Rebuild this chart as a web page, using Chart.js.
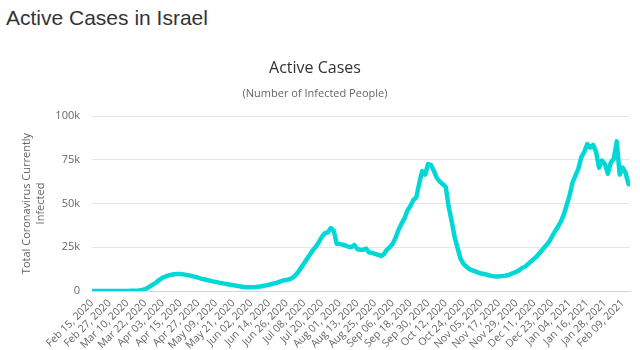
<!DOCTYPE html>
<html>
<head>
<meta charset="utf-8">
<script src="https://cdn.jsdelivr.net/npm/chart.js@4"></script>
<style>
  body { margin: 0; background: #fff; }
  #h { position: absolute; left: 6px; top: 7px; font: 21px/21px "Liberation Sans", Arial, sans-serif; color: #333; white-space: nowrap; }
  #wrap { position: absolute; left: 0; top: 40px; width: 640px; height: 310px; }
</style>
</head>
<body>
<div id="h">Active Cases in Israel</div>
<div id="wrap"><canvas id="c"></canvas></div>
<script>
// x tick labels, one every 12 days starting Feb 15, 2020
const tickLabels = ['Feb 15, 2020', 'Feb 27, 2020', 'Mar 10, 2020', 'Mar 22, 2020', 'Apr 03, 2020',
  'Apr 15, 2020', 'Apr 27, 2020', 'May 09, 2020', 'May 21, 2020', 'Jun 02, 2020', 'Jun 14, 2020',
  'Jun 26, 2020', 'Jul 08, 2020', 'Jul 20, 2020', 'Aug 01, 2020', 'Aug 13, 2020', 'Aug 25, 2020',
  'Sep 06, 2020', 'Sep 18, 2020', 'Sep 30, 2020', 'Oct 12, 2020', 'Oct 24, 2020', 'Nov 05, 2020',
  'Nov 17, 2020', 'Nov 29, 2020', 'Dec 11, 2020', 'Dec 23, 2020', 'Jan 04, 2021', 'Jan 16, 2021',
  'Jan 28, 2021', 'Feb 09, 2021'];
const tickStep = 12;     // days between labels
const lastDay = 365;     // Feb 14, 2021
const sampleStep = 2;    // one value read every 2 days

// active cases, every 2 days from Feb 15, 2020
const activeCases = [
  0, 0, 0, 1, 1, 1, 1, 2, 3, 10, 15,
  30, 50, 80, 120, 200, 300, 600, 1000, 1900, 3000,
  4000, 5200, 6500, 7600, 8300, 8900, 9300, 9600, 9700, 9700,
  9500, 9200, 8900, 8500, 8100, 7600, 7100, 6700, 6300, 5900,
  5500, 5200, 4800, 4500, 4200, 3900, 3600, 3300, 3000, 2700,
  2400, 2200, 2100, 2100, 2200, 2400, 2600, 2900, 3200, 3600,
  4000, 4400, 4900, 5500, 6100, 6300, 6700, 7500, 9000, 11000,
  13500, 16000, 18500, 21000, 23500, 25500, 28000, 31000, 33000, 33500,
  36000, 34500, 27000, 26800, 26500, 26000, 25300, 25000, 26300, 24000,
  23500, 23600, 24200, 22000, 21800, 21200, 20700, 20000, 21000, 23500,
  25000, 27000, 30500, 35000, 38500, 41500, 46000, 48500, 52000, 53500,
  61500, 68500, 66500, 72500, 72000, 68500, 64500, 62500, 61000, 59500,
  48000, 40000, 31000, 24500, 18500, 15500, 14000, 12500, 11800, 11200,
  10500, 10000, 9700, 9300, 8800, 8500, 8300, 8300, 8500, 8700,
  9000, 9600, 10400, 11000, 12000, 13300, 14000, 15500, 17000, 18500,
  20000, 22000, 24000, 26000, 28000, 31000, 34000, 36500, 39500, 43500,
  49000, 54500, 62000, 66000, 70000, 76500, 79500, 84000, 82000, 83500,
  79500, 70500, 74500, 72500, 67000, 73500, 75500, 85500, 66500, 70500, 67500, 61000
];

const FONT = '"Open Sans", "DejaVu Sans", sans-serif';
const MUTED = '#666666';

new Chart(document.getElementById('c'), {
  type: 'line',
  data: {
    datasets: [{
      label: 'Currently Infected',
      data: activeCases.map((v, i) => ({ x: i * sampleStep, y: v })),
      borderColor: '#00d8d8',
      borderWidth: 4.5,
      borderJoinStyle: 'round',
      borderCapStyle: 'round',
      pointRadius: 0,
      tension: 0,
      fill: false
    }]
  },
  options: {
    responsive: true,
    maintainAspectRatio: false,
    animation: false,
    devicePixelRatio: 1,
    layout: { padding: { left: 0, right: 10, top: 0, bottom: 0 } },
    plugins: {
      legend: { display: false },
      tooltip: { enabled: false },
      title: {
        display: true, text: 'Active Cases', color: '#333333',
        font: { family: FONT, size: 16, weight: 'normal' },
        padding: { top: 18.4, bottom: 5 }
      },
      subtitle: {
        display: true, text: '(Number of Infected People)', color: MUTED,
        font: { family: FONT, size: 11 },
        padding: { top: 4.8, bottom: 15.4 }
      }
    },
    scales: {
      x: {
        type: 'linear', min: 0, max: lastDay,
        grid: { display: false, drawTicks: false },
        border: { display: true, color: '#ccd6eb' },
        ticks: {
          autoSkip: false, maxRotation: 45, minRotation: 45,
          color: MUTED, font: { family: FONT, size: 10.5 }, padding: 6,
          callback: (v) => tickLabels[v / tickStep] || ''
        },
        afterBuildTicks: (s) => { s.ticks = tickLabels.map((_, i) => ({ value: i * tickStep })); },
        afterFit: (s) => { s.height = 59; }
      },
      y: {
        min: 0, max: 100000,
        grid: { color: '#e6e6e6', drawTicks: false },
        border: { display: false },
        ticks: {
          stepSize: 25000, color: MUTED, font: { family: FONT, size: 11 }, padding: 12,
          callback: (v) => (v === 0 ? '0' : v / 1000 + 'k')
        },
        title: {
          display: true, text: ['Total Coronavirus Currently', 'Infected'], color: MUTED,
          font: { family: FONT, size: 11 }, padding: { top: 20.7, bottom: 0 }
        },
        afterFit: (s) => { s.width = 92; }
      }
    }
  }
});
</script>
</body>
</html>
